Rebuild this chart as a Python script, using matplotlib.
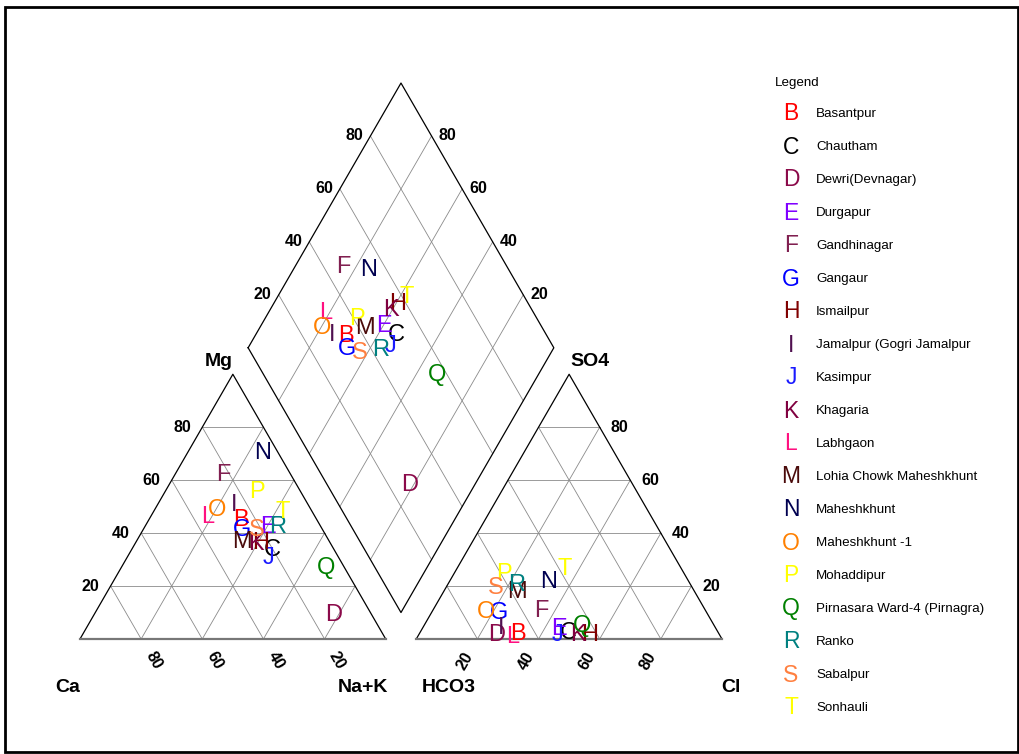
import numpy as np
import matplotlib
matplotlib.use("Agg")
from matplotlib import pyplot as plt
from matplotlib import font_manager
from matplotlib.patches import Rectangle

plt.rcParams['font.family'] = ['Liberation Sans', 'DejaVu Sans']

# sample sites, one letter each
letters = list("BCDEFGHIJKLMNOPQRST")
sites = ["Basantpur", "Chautham", "Dewri(Devnagar)", "Durgapur", "Gandhinagar",
         "Gangaur", "Ismailpur", "Jamalpur (Gogri Jamalpur", "Kasimpur", "Khagaria",
         "Labhgaon", "Lohia Chowk Maheshkhunt", "Maheshkhunt", "Maheshkhunt -1",
         "Mohaddipur", "Pirnasara Ward-4 (Pirnagra)", "Ranko", "Sabalpur", "Sonhauli"]
colors = ["#ff0000", "#000000", "#8b0a4a", "#8000ff", "#801f50", "#0000ff", "#800000",
          "#501050", "#1a1aff", "#800040", "#ff1080", "#4a0a0a", "#000050", "#ff8000",
          "#ffff00", "#008000", "#008080", "#ff8040", "#ffff00"]

# cations, % meq
ca  = [25.0, 20.4, 12.4, 17.4, 22.2, 26.4, 22.9, 24.3, 23.2, 24.5,
       35.1, 28.7, 5.0, 30.8, 14.4, 6.1, 14.1, 21.5, 9.6]
mg  = [45.0, 33.6, 9.0, 42.3, 62.0, 41.2, 36.3, 50.6, 30.6, 36.0,
       46.1, 36.6, 70.3, 48.7, 55.5, 26.8, 42.3, 41.2, 48.0]
nak = [30.0, 46.0, 78.6, 40.3, 15.8, 32.4, 40.8, 25.1, 46.2, 39.5,
       18.8, 34.7, 24.7, 20.5, 30.1, 67.1, 43.6, 37.3, 42.4]

# anions, % meq
hco3 = [65.7, 49.1, 73.1, 51.3, 53.8, 68.0, 42.7, 70.1, 53.1, 46.3,
        68.2, 58.0, 46.1, 72.0, 58.9, 43.2, 57.1, 64.5, 38.4]
cl   = [32.4, 48.6, 25.4, 44.9, 35.6, 22.2, 55.8, 25.7, 45.4, 52.2,
        31.0, 24.2, 32.4, 17.8, 16.5, 51.9, 22.5, 16.2, 35.2]
so4  = [1.9, 2.3, 1.5, 3.8, 10.6, 9.8, 1.5, 4.2, 1.5, 1.5,
        0.8, 17.8, 21.5, 10.2, 24.6, 4.9, 20.4, 19.3, 26.4]

grid_ticks = [20, 40, 60, 80]

h = np.sqrt(3) / 2
g = 0.1
W, H = 1020, 754
s = 305.7                  # pixels per triangle side
ox, oy = 80, 115           # Ca corner, pixels from bottom left

fig = plt.figure(figsize=(W / 100, H / 100), dpi=100)
ax = fig.add_axes([0, 0, 1, 1])
ax.set_xlim(-ox / s, (W - ox) / s)
ax.set_ylim(-oy / s, (H - oy) / s)
ax.axis('off')

gcol = '#8a8a8a'
tick_kw = dict(fontsize=11.5, fontweight='bold', ha='center', va='center')

# left (cation) and right (anion) triangles
for x0 in [0, 1 + g]:
    for t in np.array(grid_ticks) / 100:
        ax.plot([x0 + t / 2, x0 + 1 - t / 2], [t * h, t * h], color=gcol, lw=0.6)
        ax.plot([x0 + t, x0 + t / 2], [0, t * h], color=gcol, lw=0.6)
        ax.plot([x0 + t, x0 + (1 + t) / 2], [0, (1 - t) * h], color=gcol, lw=0.6)
    ax.plot([x0, x0 + 0.5, x0 + 1], [0, h, 0], color='black', lw=0.9)
    ax.plot([x0, x0 + 1], [0, 0], color='#777777', lw=1.6)

# diamond
Lx, Ly = 0.5 + g / 2, h * (1 + g)
def dpt(a, b):
    return Lx + 0.5 * a + 0.5 * b, Ly - h * a + h * b
for t in np.array(grid_ticks) / 100:
    x1, y1 = dpt(t, 0); x2, y2 = dpt(t, 1)
    ax.plot([x1, x2], [y1, y2], color=gcol, lw=0.6)
    x1, y1 = dpt(0, t); x2, y2 = dpt(1, t)
    ax.plot([x1, x2], [y1, y2], color=gcol, lw=0.6)
corners = [dpt(0, 0), dpt(1, 0), dpt(1, 1), dpt(0, 1), dpt(0, 0)]
ax.plot([c[0] for c in corners], [c[1] for c in corners], color='black', lw=0.9)

# tick labels
off = 25 / s
for v in grid_ticks:
    t = v / 100
    # Mg on left edge, Ca on base
    ax.text(t / 2 - 20 / s, t * h, str(v), **tick_kw)
    ax.text(1 - t + 0.5 * off, -h * off, str(v), rotation=-60, **tick_kw)
    # Cl on base, SO4 on right edge
    ax.text(1 + g + t - 0.5 * off, -h * off, str(v), rotation=60, **tick_kw)
    ax.text(1 + g + 1 - t / 2 + 20 / s, t * h, str(v), **tick_kw)
    # diamond: SO4+Cl on upper left, Ca+Mg on upper right
    x, y = dpt(0, t)
    ax.text(x - 16 / s, y, str(v), **tick_kw)
    x, y = dpt(1 - t, 1)
    ax.text(x + 16 / s, y, str(v), **tick_kw)

lab_kw = dict(fontsize=14, fontweight='bold', ha='center', va='center')
ax.text(-12 / s, -49 / s, "Ca", **lab_kw)
ax.text(1 - 23 / s, -49 / s, "Na+K", **lab_kw)
ax.text(1 + g + 32 / s, -49 / s, "HCO3", **lab_kw)
ax.text(2 + g + 9 / s, -49 / s, "Cl", **lab_kw)
ax.text(0.5 - 14 / s, h + 13 / s, "Mg", **lab_kw)
ax.text(1.5 + g + 21 / s, h + 13 / s, "SO4", **lab_kw)

# samples
pt_kw = dict(fontsize=17, ha='center', va='center')
for i in range(len(letters)):
    c_ca, c_mg, c_nk = ca[i] / 100, mg[i] / 100, nak[i] / 100
    a_cl, a_so4 = cl[i] / 100, so4[i] / 100
    ax.text(c_nk + c_mg / 2, c_mg * h, letters[i], color=colors[i], **pt_kw)
    ax.text(1 + g + a_cl + a_so4 / 2, a_so4 * h, letters[i], color=colors[i], **pt_kw)
    x, y = dpt(c_nk, a_cl + a_so4)
    ax.text(x, y, letters[i], color=colors[i], **pt_kw)

# legend
try:
    font_manager.findfont('Liberation Sans Narrow', fallback_to_default=False)
    leg_family = ['Liberation Sans Narrow', 'Liberation Sans']
    leg_size = 11
except ValueError:
    leg_family = ['Liberation Sans']
    leg_size = 9.6
fig.text(775 / W, 1 - 83 / H, "Legend", family=leg_family, fontsize=leg_size,
         ha='left', va='center')
for i in range(len(letters)):
    yy = 1 - (114 + 33 * i) / H
    fig.text(791 / W, yy, letters[i], color=colors[i], fontsize=16.5, ha='center', va='center')
    fig.text(816 / W, yy, sites[i], family=leg_family, fontsize=leg_size,
             ha='left', va='center')

fig.patches.append(Rectangle((5 / W, 2 / H), 1013 / W, 745 / H, transform=fig.transFigure,
                             fill=False, edgecolor='black', lw=2))

fig.savefig("out.png", dpi=100)
